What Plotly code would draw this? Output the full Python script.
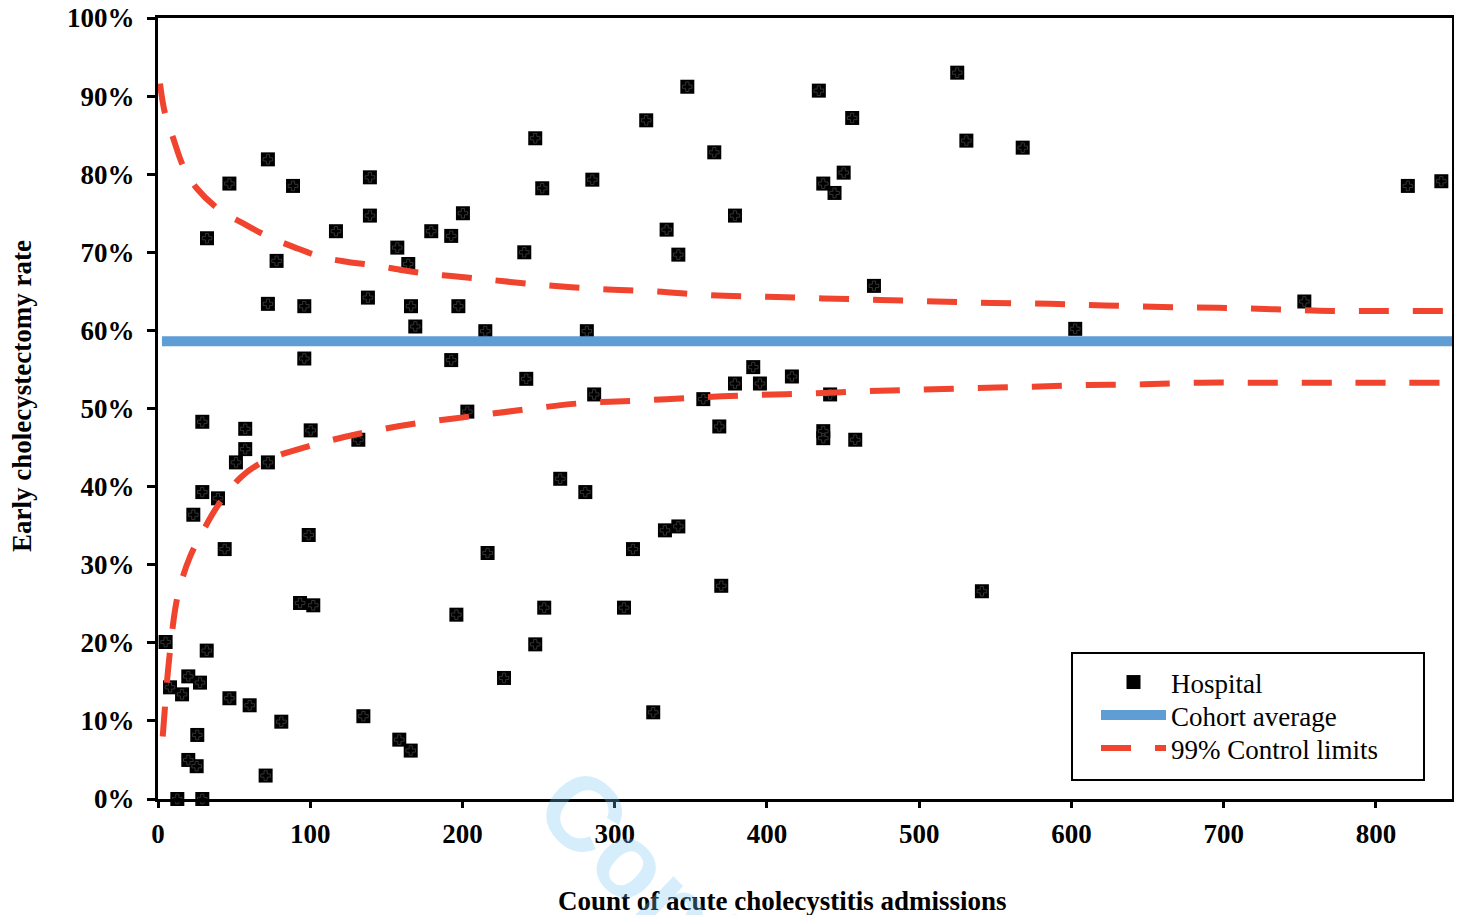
import plotly.graph_objects as go

# Hospital data: admissions count and early cholecystectomy rate (%)
hosp_x = [72.2, 46.9, 88.7, 139.2, 32.2, 139.2, 116.9, 200.3, 179.5, 192.6,
          157.2, 164.4, 77.9, 72.2, 96.1, 137.9, 166.2, 197.3, 169.0, 215.0,
          96.1, 192.6, 203.2, 29.1, 57.3, 100.3, 131.6, 57.3, 51.2, 72.2,
          29.1, 39.4, 23.2, 99.0, 43.8, 216.5, 93.3, 102.0, 196.0, 5.0,
          32.0, 19.9, 27.6, 7.9, 15.8, 46.9, 60.2, 81.0, 134.9, 158.5,
          166.0, 25.8, 19.9, 25.4, 70.7, 12.7, 29.1, 227.3, 347.7, 320.7,
          247.8, 365.4, 252.4, 285.3, 434.1, 456.0, 450.4, 437.0, 444.4, 379.0,
          334.1, 341.8, 240.6, 470.3, 281.7, 241.9, 286.5, 391.0, 379.0, 395.4,
          416.4, 358.2, 441.5, 368.7, 437.0, 437.0, 458.0, 264.2, 280.7, 333.0,
          341.8, 312.0, 370.0, 253.7, 306.1, 247.8, 325.3, 525.0, 531.0, 568.0,
          821.0, 843.0, 602.5, 753.0, 541.2]
hosp_y = [81.9, 78.8, 78.5, 79.6, 71.8, 74.7, 72.7, 75.0, 72.7, 72.1,
          70.6, 68.5, 68.9, 63.4, 63.1, 64.2, 63.1, 63.1, 60.5, 59.9,
          56.4, 56.2, 49.6, 48.3, 47.4, 47.2, 46.0, 44.8, 43.1, 43.1,
          39.3, 38.5, 36.4, 33.8, 32.0, 31.5, 25.1, 24.8, 23.6, 20.1,
          19.0, 15.7, 14.9, 14.3, 13.4, 12.9, 12.0, 9.9, 10.6, 7.6,
          6.2, 8.2, 5.0, 4.2, 3.0, 0.0, 0.0, 15.5, 91.2, 86.9,
          84.6, 82.8, 78.2, 79.3, 90.7, 87.2, 80.2, 78.8, 77.6, 74.7,
          72.9, 69.7, 70.0, 65.7, 59.9, 53.8, 51.8, 55.3, 53.2, 53.2,
          54.1, 51.2, 51.8, 47.7, 47.1, 46.2, 46.0, 41.0, 39.3, 34.4,
          34.9, 32.0, 27.3, 24.5, 24.5, 19.8, 11.1, 93.0, 84.3, 83.4,
          78.5, 79.1, 60.2, 63.7, 26.6]

# Cohort average
avg_x = [2.6, 850]
avg_y = [58.6, 58.6]

# 99% control limits
upper_x = [1.3, 4.6, 10, 16.6, 25.4, 40.7, 56, 72.5, 88.9, 107.5, 123.9, 143.6,
           161.1, 179.8, 196.2, 217, 253, 290.3, 326.4, 363.7, 399.8, 437, 474,
           511.2, 548.4, 585.9, 621.9, 659.8, 696.6, 734, 770.8, 807.9, 845]
upper_y = [91.6, 87.8, 84.6, 81.0, 78.2, 75.4, 73.7, 72.0, 70.7, 69.4, 68.8, 68.3,
           67.7, 67.2, 66.9, 66.5, 65.8, 65.3, 65.0, 64.5, 64.3, 64.1, 63.9,
           63.7, 63.5, 63.4, 63.2, 63.0, 62.9, 62.7, 62.5, 62.5, 62.5]
lower_x = [3.1, 4.6, 6.8, 11.2, 14.4, 21, 29.8, 39.4, 55, 71.4, 97.7, 132.7,
           169.9, 206, 242.2, 279.3, 315.5, 352.7, 388.8, 426.1, 463.3, 499.6,
           536.9, 574.3, 611.1, 647.8, 685.1, 722.4, 759.7, 796.6, 845]
lower_y = [8.0, 11.8, 16.9, 24.2, 27.2, 31.0, 34.4, 37.6, 41.3, 43.4, 45.1, 46.8,
           48.1, 49.0, 49.9, 50.7, 51.0, 51.4, 51.7, 51.9, 52.2, 52.4,
           52.6, 52.8, 53.0, 53.1, 53.3, 53.3, 53.3, 53.3, 53.3]

y_ticks = [0, 10, 20, 30, 40, 50, 60, 70, 80, 90, 100]
y_tick_text = ["0%", "10%", "20%", "30%", "40%", "50%", "60%", "70%", "80%", "90%", "100%"]
x_ticks = [0, 100, 200, 300, 400, 500, 600, 700, 800]

SERIF = "Liberation Serif, Times New Roman, serif"
RED = "#F0442E"
BLUE = "#5F9DD5"

fig = go.Figure()
fig.add_trace(go.Scatter(
    x=hosp_x, y=hosp_y, mode="markers", name="Hospital", legend="legend",
    marker=dict(symbol="square", size=14, color="black", line=dict(width=0)),
    cliponaxis=False))
fig.add_trace(go.Scatter(
    x=hosp_x, y=hosp_y, mode="markers", showlegend=False, hoverinfo="skip",
    marker=dict(symbol="cross-open", size=8, color="#333333",
                line=dict(width=1, color="#333333")),
    cliponaxis=False))
fig.add_trace(go.Scatter(
    x=avg_x, y=avg_y, mode="lines", name="Cohort average", legend="legend2",
    line=dict(color=BLUE, width=10)))
fig.add_trace(go.Scatter(
    x=upper_x, y=upper_y, mode="lines", name="99% Control limits", legend="legend3",
    legendgroup="cl", line=dict(color=RED, width=6, dash="30px,24px", shape="spline")))
fig.add_trace(go.Scatter(
    x=lower_x, y=lower_y, mode="lines", showlegend=False, legend="legend3",
    legendgroup="cl", line=dict(color=RED, width=6, dash="30px,24px", shape="spline")))

LEG_X = (1096 - 158) / 1294


def leg(center_y):
    return dict(
        x=LEG_X, y=(799 - (center_y - 26)) / 781, xanchor="left", yanchor="top",
        borderwidth=0, bgcolor="rgba(0,0,0,0)",
        font=dict(family=SERIF, size=27, color="black"),
        itemwidth=65, tracegroupgap=0,
    )


# page has an 8px body margin: figure is 1446x907 placed at (8, 8)
fig.update_layout(
    width=1446, height=907,
    margin=dict(l=150, r=2, t=10, b=116),
    paper_bgcolor="white", plot_bgcolor="white",
    font=dict(family=SERIF, color="black"),
    showlegend=True,
    legend=leg(684),
    legend2=leg(717),
    legend3=leg(750),
    xaxis=dict(
        range=[0, 850], tickvals=x_ticks, showgrid=False, zeroline=False,
        showline=True, linecolor="black", linewidth=3, mirror=True,
        ticks="outside", ticklen=6, tickwidth=3, tickcolor="black",
        tickfont=dict(family=SERIF, size=27, weight="bold"),
        ticklabelstandoff=3, automargin=False, ticklabeloverflow="allow",
    ),
    yaxis=dict(
        range=[0, 100], tickvals=y_ticks, ticktext=y_tick_text, showgrid=False,
        zeroline=False, showline=True, linecolor="black", linewidth=3,
        mirror=True, ticks="outside", ticklen=8, tickwidth=3, tickcolor="black",
        tickfont=dict(family=SERIF, size=27, weight="bold"),
        ticklabelstandoff=7, automargin=False, ticklabeloverflow="allow",
    ),
    shapes=[
        dict(type="rect", xref="paper", yref="paper",
             x0=(1072 - 158) / 1294, x1=(1424 - 158) / 1294,
             y0=(799 - 780) / 781, y1=(799 - 653) / 781,
             line=dict(color="black", width=2), fillcolor="rgba(0,0,0,0)", layer="above"),
    ],
    annotations=[
        dict(text="Count of acute cholecystitis admissions", xref="paper", yref="paper",
             x=(782 - 158) / 1294, y=(799 - 901) / 781, xanchor="center", yanchor="middle",
             showarrow=False, font=dict(family=SERIF, size=27, weight="bold")),
        dict(text="Early cholecystectomy rate", xref="paper", yref="paper",
             x=(22 - 158) / 1294, y=(799 - 396) / 781, xanchor="center", yanchor="middle",
             textangle=-90, showarrow=False, font=dict(family=SERIF, size=27, weight="bold")),
        dict(text="Confidential: For Review Only", xref="paper", yref="paper",
             x=0.7152, y=-0.6594, xanchor="center", yanchor="middle",
             textangle=45, showarrow=False,
             font=dict(family="Liberation Sans, Arial, sans-serif", size=105, weight="bold",
                       color="rgba(120,200,245,0.3)")),
    ],
)

fig.write_html("out.html")
